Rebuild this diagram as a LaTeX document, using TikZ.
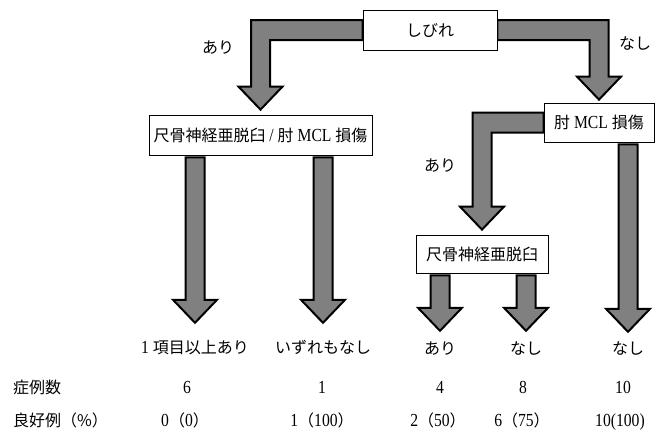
\documentclass[tikz,border=0pt]{standalone}
\usepackage{fontspec}
\setmainfont{Liberation Serif}[Scale=1.15,FakeStretch=0.85]
\newfontfamily\jp{Noto Sans CJK JP}
\usetikzlibrary{calc, backgrounds}

\tikzset{box/.style = {draw, fill=white, line width=0.8pt, inner sep=1pt}}
\tikzset{blockarrow/.style = {draw=black, fill=gray, line width=2pt, line join=miter}}
\tikzset{lbl/.style = {inner sep=0pt, text height=14pt, text depth=2pt}}

% straight block arrow: source, target, gap above target
\newcommand{\vblock}[3]{\filldraw[blockarrow] let \p1=(#1), \p2=(#2) in
  ({\x2-9.5pt},{\y1-2pt}) -- ({\x2-9.5pt},{\y2+#3+23pt}) -- ({\x2-22pt},{\y2+#3+23pt}) -- ({\x2},{\y2+#3})
  -- ({\x2+22pt},{\y2+#3+23pt}) -- ({\x2+9.5pt},{\y2+#3+23pt}) -- ({\x2+9.5pt},{\y1-2pt}) -- cycle;}
% bent block arrow: source, target, gap above target, direction
\newcommand{\bblock}[4]{\filldraw[blockarrow] let \p1=(#1), \p2=(#2) in
  ({\x1},{\y1+10pt}) -- ({\x2+(#4)*9.5pt},{\y1+10pt}) -- ({\x2+(#4)*9.5pt},{\y2+#3+23pt}) -- ({\x2+(#4)*22pt},{\y2+#3+23pt})
  -- ({\x2},{\y2+#3}) -- ({\x2-(#4)*22pt},{\y2+#3+23pt}) -- ({\x2-(#4)*9.5pt},{\y2+#3+23pt})
  -- ({\x2-(#4)*9.5pt},{\y1-10pt}) -- ({\x1},{\y1-10pt}) -- cycle;}
\newcommand{\pc}[2]{#1{\jp（}#2{\jp）}}

\begin{document}
\begin{tikzpicture}[x=1pt, y=-1pt, font=\fontsize{16pt}{19pt}\selectfont]
\useasboundingbox (0,0) rectangle (659,432);

%boxes
\node[box, minimum width=134pt, minimum height=40pt] (shibire) at (430,30) {\jp しびれ};
\node[box, minimum width=223pt, minimum height=40pt] (both) at (260.5,135) {{\jp 尺骨神経亜脱臼} / {\jp 肘} MCL {\jp 損傷}};
\node[box, minimum width=110pt, minimum height=39pt] (mcl) at (599,122.5) {{\jp 肘} MCL {\jp 損傷}};
\node[box, minimum width=132pt, minimum height=38pt] (ulnar) at (482,254) {\jp 尺骨神経亜脱臼};

%branch labels
\node[lbl] (ari1) at (218,47) {\jp あり};
\node[lbl] (nashi1) at (635,43) {\jp なし};
\node[lbl] (ari2) at (440,165) {\jp あり};

%results
\node[lbl] (res1) at (195,347) {1 {\jp 項目以上あり}};
\node[lbl] (res2) at (323,347) {\jp いずれもなし};
\node[lbl] (res3) at (440,348) {\jp あり};
\node[lbl] (res4) at (526,348) {\jp なし};
\node[lbl] (res5) at (628,348) {\jp なし};

%table
\node[lbl, anchor=west] (cases) at (13,387) {\jp 症例数};
\node[lbl, anchor=west] (good) at (13,420) {\jp 良好例（\%）};
\node[lbl] (n1) at (187,387) {6};
\node[lbl] (n2) at (322,387) {1};
\node[lbl] (n3) at (440,387) {4};
\node[lbl] (n4) at (523,387) {8};
\node[lbl] (n5) at (623,387) {10};
\node[lbl] (g1) at (185,420) {\pc{0}{0}};
\node[lbl] (g2) at (322,420) {\pc{1}{100}};
\node[lbl] (g3) at (438,420) {\pc{2}{50}};
\node[lbl] (g4) at (522,420) {\pc{6}{75}};
\node[lbl] (g5) at (620,420) {10(100)};

%arrows
\begin{pgfonlayer}{background}
\bblock{shibire.west}{both.north}{5pt}{-1}
\bblock{shibire.east}{mcl.north}{3pt}{1}
\bblock{mcl.west}{ulnar.north}{5pt}{-1}
\vblock{both.south}{res1.north}{16pt}
\vblock{both.south}{res2.north}{16pt}
\vblock{ulnar.south}{res3.north}{9pt}
\vblock{ulnar.south}{res4.north}{9pt}
\vblock{mcl.south}{res5.north}{8pt}
\end{pgfonlayer}

\end{tikzpicture}
\end{document}
